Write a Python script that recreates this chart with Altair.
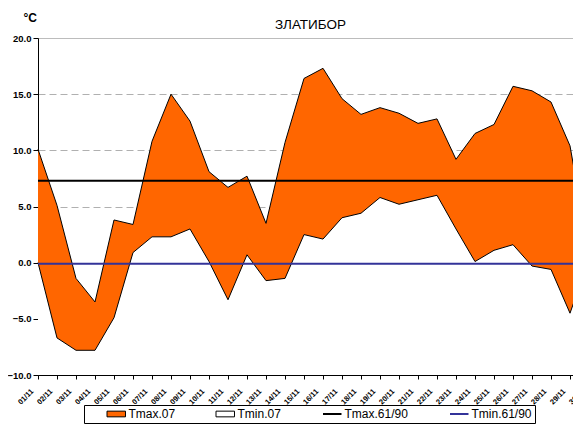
import json
import altair as alt
import pandas as pd

# ---------------- data ----------------
dates = ["01/11", "02/11", "03/11", "04/11", "05/11", "06/11", "07/11", "08/11",
         "09/11", "10/11", "11/11", "12/11", "13/11", "14/11", "15/11", "16/11",
         "17/11", "18/11", "19/11", "20/11", "21/11", "22/11", "23/11", "24/11",
         "25/11", "26/11", "27/11", "28/11", "29/11", "30/11"]
tmax_07 = [10.1, 5.1, -1.4, -3.5, 3.8, 3.4, 10.8, 15.0, 12.6, 8.1, 6.7, 7.7, 3.5, 10.7,
           16.4, 17.3, 14.6, 13.2, 13.8, 13.3, 12.4, 12.8, 9.2, 11.5, 12.3, 15.7, 15.3,
           14.3, 10.4, 0.8]
tmin_07 = [0.0, -6.7, -7.8, -7.8, -4.9, 0.9, 2.3, 2.3, 3.0, 0.1, -3.3, 0.7, -1.6, -1.4,
           2.5, 2.1, 4.0, 4.4, 5.8, 5.2, 5.6, 6.0, 3.0, 0.1, 1.1, 1.6, -0.3, -0.6,
           -4.5, 0.3]
norm_names = ["Tmax.61/90", "Tmin.61/90"]
norm_values = [7.3, -0.1]
norm_colors = ["#000000", "#333399"]
series_names = ["Tmax.07", "Tmin.07", "Tmax.61/90", "Tmin.61/90"]
series_colors = ["#ff6600", "#ffffff", "#000000", "#333399"]
y_ticks = [-10, -5, 0, 5, 10, 15, 20]
title_text = "ЗЛАТИБОР"
unit_text = "°C"

df = pd.DataFrame({"date": dates, "tmax": tmax_07, "tmin": tmin_07})
norms = pd.DataFrame({"series": norm_names, "value": norm_values})

FONT = "Arial, Liberation Sans, sans-serif"

fill_scale = alt.Scale(domain=series_names, range=series_colors)
stroke_scale = alt.Scale(domain=norm_names, range=norm_colors)
y_scale = alt.Scale(domain=[-10, 20], nice=False, zero=False)

line_test = "indexof(%s, datum.value) >= 0" % json.dumps(norm_names)
legend = alt.Legend(
    title="\u00a0", titleOrient="left", titlePadding=20, titleFontSize=11,
    orient="none", legendX=46, legendY=367, direction="horizontal", columns=4,
    columnPadding=38, padding=3, strokeColor="#000000", fillColor="#ffffff",
    labelFont=FONT, labelFontSize=12, labelColor="#000000",
    symbolSize=36, symbolOffset=3.25, labelOffset=6.25, symbolOpacity=1,
    symbolType={"expr": "%s ? 'M-3.08,0H3.08' : 'M-3.08,-0.95H3.08V0.95H-3.08Z'" % line_test},
    symbolStrokeColor={"expr": "datum.value == '%s' ? '%s' : '#000000'"
                       % (norm_names[1], norm_colors[1])},
    symbolStrokeWidth={"expr": "%s ? 2 : 1" % line_test},
    labelExpr="datum.label + (datum.value == '%s' ? '%s' : '')" % (norm_names[1], "\u00a0" * 7),
)

x_enc = alt.X(
    "date:N", sort=None, scale=alt.Scale(type="point", padding=0, range=[0, 551]),
    axis=alt.Axis(title=None, labelAngle=315, labelAlign="right", labelBaseline="middle",
                  labelFont=FONT, labelFontSize=7.5, labelFontWeight="bold",
                  labelColor="#000000", labelOffset=-6, labelPadding=11, tickSize=4,
                  tickColor="#000000", domainColor="#000000", grid=False,
                  labelOverlap=False, zindex=1),
)
y_axis = alt.Axis(
    values=y_ticks, format=".1f", labelFont=FONT, labelFontSize=9.5,
    labelFontWeight="bold", labelColor="#000000", labelPadding=2, tickSize=5,
    tickColor="#000000", domainColor="#000000", grid=True, gridColor="#b0b0b0",
    gridDash=alt.condition(alt.datum.value == 20, alt.value([1, 0]), alt.value([7, 4])),
    title=unit_text, titleAngle=0, titleX=-15, titleY=-17, titleAlign="left",
    titleBaseline="alphabetic", titleFont=FONT, titleFontSize=12,
    titleFontWeight="bold", titleColor="#000000",
)

base = alt.Chart(df).encode(x=x_enc)

area_max = base.transform_calculate(series="'%s'" % series_names[0]).mark_area().encode(
    y=alt.Y("tmax:Q", scale=y_scale, axis=y_axis),
    y2=alt.datum(-10),
    fill=alt.Fill("series:N", scale=fill_scale, legend=legend),
)
area_min = base.transform_calculate(series="'%s'" % series_names[1]).mark_area().encode(
    y=alt.Y("tmin:Q", scale=y_scale, axis=y_axis),
    y2=alt.datum(-10),
    fill=alt.Fill("series:N", scale=fill_scale, legend=legend),
)
line_max = base.mark_line(color="#000000", strokeWidth=1).encode(
    y=alt.Y("tmax:Q", scale=y_scale, axis=y_axis))
line_min = base.mark_line(color="#000000", strokeWidth=1).encode(
    y=alt.Y("tmin:Q", scale=y_scale, axis=y_axis))
rules = alt.Chart(norms).mark_rule(strokeWidth=2).encode(
    y=alt.Y("value:Q", scale=y_scale, axis=y_axis),
    stroke=alt.Stroke("series:N", scale=stroke_scale, legend=None),
)

chart = alt.layer(area_max, area_min, line_max, line_min, rules).properties(
    width=535, height=337,
    autosize=alt.AutoSizeParams(type="none"),
    padding={"left": 30, "top": 30, "right": 0, "bottom": 49},
    title=alt.TitleParams(title_text, font=FONT, fontSize=13.5, fontWeight="normal",
                          color="#000000", anchor="middle", frame="group", offset=-31,
                          baseline="alphabetic", dx=5),
).configure_view(strokeOpacity=0).configure(background="#ffffff")

chart.save("out.html", embed_options={"renderer": "svg", "actions": False})
